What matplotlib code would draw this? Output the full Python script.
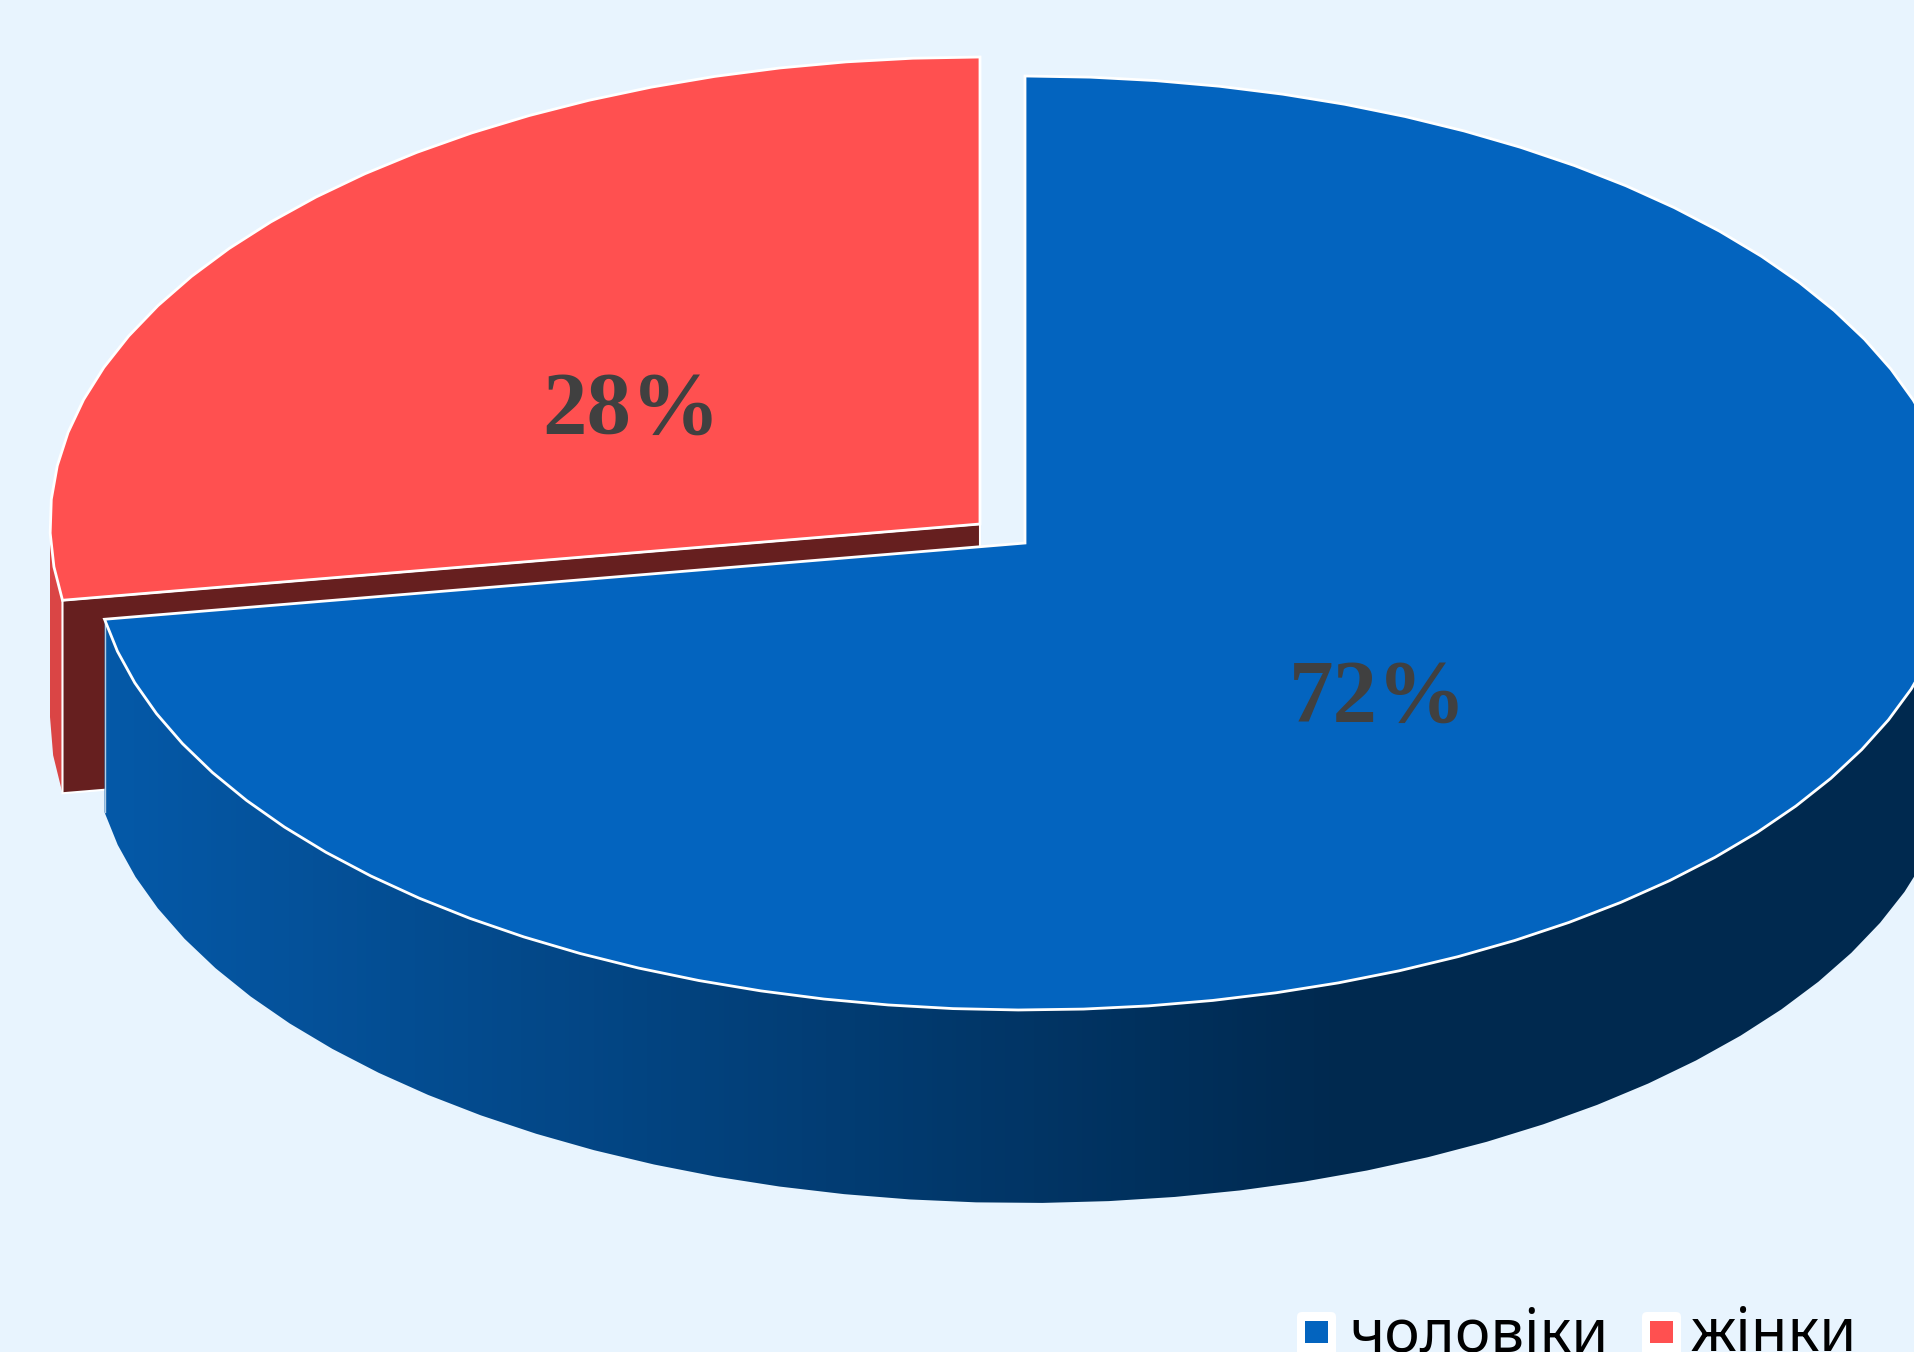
import numpy as np
import matplotlib
matplotlib.use('Agg')
from matplotlib import pyplot as plt
from matplotlib.colors import LinearSegmentedColormap
from matplotlib.patches import Polygon, Rectangle, FancyBboxPatch

# Data
labels = ['чоловіки', 'жінки']
shares = [72, 28]
pct_labels = ['72%', '28%']

# Colours
BG = '#E8F4FE'
BLUE = '#0364BF'
RED = '#FF5050'
RED_INNER = '#661F1F'
RED_SIDE = '#DA4545'
BLUE_SIDE_LEFT = '#0559A8'
BLUE_SIDE_RIGHT = '#00294F'

# Layout, in pixels of the picture
W, H = 1914, 1352
BLUE_RX, RED_RX, RY = 933, 930, 467
DEPTH = 193
BLUE_C = (1025, 543)
RED_C = (980, 524)
TILT = 1.4  # perspective moves the cut a little past the true share


def arc(center, rx, a0, a1, step=4.0):
    # angles are clockwise from the top of the ellipse
    n = max(2, int(abs(a1 - a0) / step) + 1)
    t = np.radians(np.linspace(a0, a1, n))
    return np.column_stack([center[0] + rx * np.sin(t), center[1] - RY * np.cos(t)])


def shifted(pts, dy=DEPTH):
    return pts + np.array([0, dy])


cut = 360 * shares[0] / sum(shares) + TILT

fig = plt.figure(figsize=(W / 100, H / 100), dpi=100, facecolor=BG)
ax = fig.add_axes([0, 0, 1, 1])
ax.set_xlim(0, W)
ax.set_ylim(H, 0)
ax.axis('off')

# red slice: outer side, cut face, top
red_arc = arc(RED_C, RED_RX, cut, 360)
side = arc(RED_C, RED_RX, cut, 270)
ax.add_patch(Polygon(np.vstack([side, shifted(side)[::-1]]), closed=True, fc=RED_SIDE, ec='none', zorder=1))
cut_pt = red_arc[0]
face = np.array([RED_C, cut_pt, shifted(cut_pt[None])[0], shifted(np.array([RED_C]))[0]])
ax.add_patch(Polygon(face, closed=True, fc=RED_INNER, ec='white', lw=1.5, zorder=2))
ax.add_patch(Polygon(np.vstack([red_arc, [RED_C]]), closed=True, fc=RED, ec='white', lw=2, joinstyle='miter', zorder=3))

# blue slice: shaded outer side, top
blue_arc = arc(BLUE_C, BLUE_RX, 0, cut)
low = arc(BLUE_C, BLUE_RX, 85, cut)
side_poly = Polygon(np.vstack([low, shifted(low)[::-1]]), closed=True, fc='none', ec='none', zorder=4)
ax.add_patch(side_poly)
left = blue_arc[-1][0]
cmap = LinearSegmentedColormap.from_list('side', [BLUE_SIDE_LEFT, BLUE_SIDE_RIGHT])
grad = np.clip((np.arange(W) - left) / (1343 - left), 0, 1)[None, :]
im = ax.imshow(grad, cmap=cmap, extent=(0, W, H, 0), aspect='auto', zorder=4)
im.set_clip_path(side_poly)
ax.plot([left, left], [blue_arc[-1][1], blue_arc[-1][1] + DEPTH], color='white', lw=1, alpha=0.7, zorder=5)
ax.add_patch(Polygon(np.vstack([blue_arc, [BLUE_C]]), closed=True, fc=BLUE, ec='white', lw=2, joinstyle='miter', zorder=6))
ax.set_xlim(0, W)
ax.set_ylim(H, 0)

# percent labels
ax.text(1378, 699, pct_labels[0], family='Liberation Serif', weight='bold', fontsize=64, color='#404040', ha='center', va='center', zorder=7)
ax.text(631, 411, pct_labels[1], family='Liberation Serif', weight='bold', fontsize=64, color='#404040', ha='center', va='center', zorder=7)

# legend, runs off the bottom edge
colors = [BLUE, RED]
box_x = [1297, 1642]
text_x = [1349, 1691]
for name, c, bx, tx in zip(labels, colors, box_x, text_x):
    ax.add_patch(FancyBboxPatch((bx + 5, 1317), 29, 60, boxstyle='round,pad=5', fc='white', ec='none', zorder=7))
    ax.add_patch(Rectangle((bx + 8, 1321), 23, 22, fc=c, ec='none', zorder=8))
    ax.text(tx, 1351, name, family='Noto Sans', fontsize=43, color='black',
            ha='left', va='baseline', zorder=8)

plt.savefig('out.png', dpi=100, facecolor=BG)
